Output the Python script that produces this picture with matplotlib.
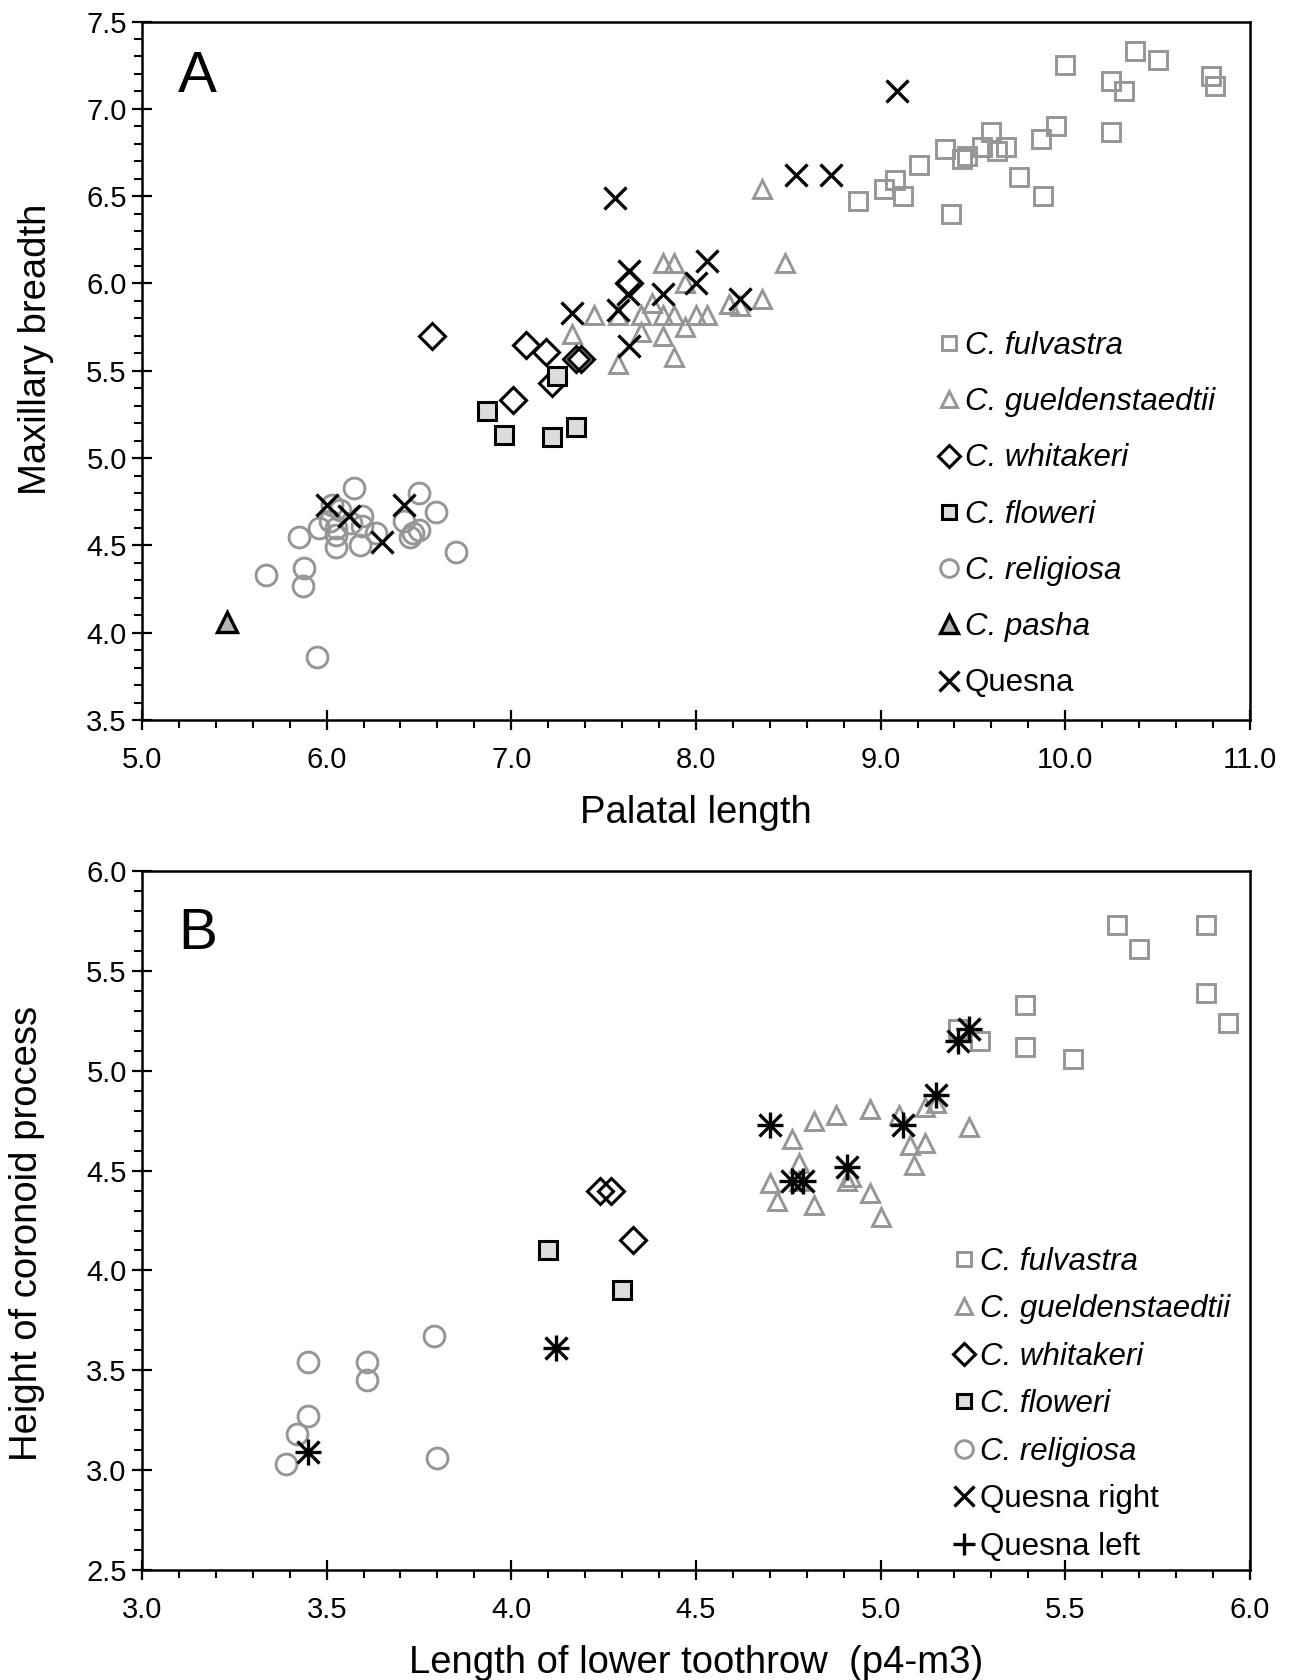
import matplotlib
matplotlib.use("Agg")
import matplotlib.pyplot as plt
from matplotlib.ticker import MultipleLocator, FormatStrFormatter

plt.rcParams['font.family'] = ['Liberation Sans', 'DejaVu Sans']

GRAY = '#969696'

# ---- Panel A: palatal length vs maxillary breadth ----
a_fulvastra_x = [10.00, 10.38, 10.50, 10.25, 10.32, 10.79, 10.81, 10.25, 9.95, 9.87,
                 9.88, 9.75, 9.60, 9.68, 9.63, 9.55, 9.44, 9.47, 9.35, 9.38, 9.21,
                 9.08, 9.02, 9.12, 8.88]
a_fulvastra_y = [7.25, 7.33, 7.28, 7.16, 7.10, 7.19, 7.13, 6.87, 6.90, 6.83,
                 6.50, 6.61, 6.87, 6.78, 6.76, 6.78, 6.71, 6.73, 6.77, 6.40, 6.68,
                 6.59, 6.54, 6.50, 6.47]

a_guelden_x = [8.36, 8.48, 7.82, 7.88, 7.94, 7.76, 7.45, 7.58, 7.70, 7.82, 7.88,
               8.00, 8.06, 8.18, 8.24, 8.36, 7.70, 7.82, 7.94, 7.33, 7.58, 7.88]
a_guelden_y = [6.54, 6.12, 6.12, 6.12, 6.00, 5.89, 5.82, 5.82, 5.82, 5.82, 5.82,
               5.82, 5.82, 5.88, 5.87, 5.91, 5.72, 5.70, 5.75, 5.71, 5.54, 5.58]

a_whitakeri_x = [6.57, 7.08, 7.19, 7.35, 7.38, 7.22, 7.01, 7.64]
a_whitakeri_y = [5.70, 5.65, 5.61, 5.57, 5.57, 5.43, 5.33, 6.00]

a_floweri_x = [6.87, 6.96, 7.22, 7.25, 7.35]
a_floweri_y = [5.27, 5.13, 5.12, 5.47, 5.18]

a_religiosa_x = [6.15, 6.50, 6.59, 6.70, 5.67, 5.88, 5.87, 5.95, 5.85, 5.96, 6.03,
                 6.07, 6.19, 6.05, 6.05, 6.05, 6.18, 6.19, 6.13, 6.27, 6.42, 6.45,
                 6.50, 6.47, 6.02]
a_religiosa_y = [4.83, 4.80, 4.69, 4.46, 4.33, 4.37, 4.27, 3.86, 4.55, 4.60, 4.73,
                 4.70, 4.67, 4.60, 4.56, 4.49, 4.50, 4.61, 4.63, 4.57, 4.64, 4.55,
                 4.59, 4.57, 4.64]

a_pasha_x = [5.46]
a_pasha_y = [4.06]

a_quesna_x = [9.09, 7.56, 7.64, 8.06, 7.82, 8.00, 7.63, 7.58, 7.33, 7.64, 8.24,
              8.54, 8.73, 6.00, 6.12, 6.30, 6.42]
a_quesna_y = [7.10, 6.49, 6.07, 6.13, 5.94, 6.00, 5.94, 5.85, 5.83, 5.64, 5.91,
              6.62, 6.62, 4.73, 4.67, 4.52, 4.73]

# ---- Panel B: lower toothrow vs coronoid height ----
b_fulvastra_x = [5.64, 5.70, 5.88, 5.88, 5.94, 5.39, 5.39, 5.52, 5.27, 5.21]
b_fulvastra_y = [5.73, 5.61, 5.73, 5.39, 5.24, 5.33, 5.12, 5.06, 5.15, 5.21]

b_guelden_x = [4.70, 4.72, 4.76, 4.78, 4.78, 4.82, 4.82, 4.88, 4.91, 4.92, 4.97,
               4.97, 5.00, 5.05, 5.08, 5.09, 5.12, 5.12, 5.15, 5.24]
b_guelden_y = [4.44, 4.35, 4.66, 4.54, 4.45, 4.75, 4.33, 4.78, 4.45, 4.47, 4.81,
               4.39, 4.27, 4.78, 4.63, 4.53, 4.64, 4.82, 4.84, 4.72]

b_whitakeri_x = [4.24, 4.27, 4.33]
b_whitakeri_y = [4.40, 4.40, 4.15]

b_floweri_x = [4.10, 4.30]
b_floweri_y = [4.10, 3.90]

b_religiosa_x = [3.45, 3.61, 3.61, 3.79, 3.45, 3.42, 3.39, 3.80]
b_religiosa_y = [3.54, 3.54, 3.45, 3.67, 3.27, 3.18, 3.03, 3.06]

b_qright_x = [3.45, 4.12, 4.70, 4.76, 4.79, 4.91, 5.06, 5.15, 5.21, 5.24]
b_qright_y = [3.09, 3.61, 4.73, 4.45, 4.45, 4.52, 4.73, 4.88, 5.15, 5.21]
b_qleft_x = [3.45, 4.12, 4.70, 4.76, 4.79, 4.91, 5.06, 5.15, 5.21, 5.24]
b_qleft_y = [3.09, 3.61, 4.73, 4.45, 4.45, 4.52, 4.73, 4.88, 5.15, 5.21]

styles = {
    'fulvastra': dict(marker='s', ms=12.5, mfc='none', mec=GRAY, mew=2.1),
    'guelden': dict(marker='^', ms=13, mfc='none', mec=GRAY, mew=2.1),
    'whitakeri': dict(marker='D', ms=13, mfc='none', mec='black', mew=2.2),
    'floweri': dict(marker='s', ms=12.5, mfc='#dcdcdc', mec='black', mew=2.2),
    'religiosa': dict(marker='o', ms=15, mfc='none', mec=GRAY, mew=2.1),
    'pasha': dict(marker='^', ms=15, mfc='#b4b4b4', mec='black', mew=2.4),
    'xmark': dict(marker='x', ms=16.5, mfc='none', mec='black', mew=2.4),
    'plus': dict(marker='+', ms=19, mfc='none', mec='black', mew=2.4),
}


def draw(ax, x, y, key, label):
    ax.plot(x, y, linestyle='none', label=label, **styles[key])


def style_axes(ax, xmaj, xmin, ymaj, ymin):
    for s in ax.spines.values():
        s.set_linewidth(1.8)
    ax.xaxis.set_major_locator(MultipleLocator(xmaj))
    ax.xaxis.set_minor_locator(MultipleLocator(xmin))
    ax.yaxis.set_major_locator(MultipleLocator(ymaj))
    ax.yaxis.set_minor_locator(MultipleLocator(ymin))
    ax.xaxis.set_major_formatter(FormatStrFormatter('%.1f'))
    ax.yaxis.set_major_formatter(FormatStrFormatter('%.1f'))
    ax.tick_params(which='major', direction='inout', length=14, width=1.6,
                   labelsize=21)
    ax.tick_params(axis='x', which='major', pad=12)
    ax.tick_params(axis='y', which='major', pad=4)
    ax.tick_params(which='minor', direction='out', length=6, width=1.5)


fig = plt.figure(figsize=(13, 16.8), dpi=100)
axA = fig.add_axes([0.1092, 0.5714, 0.8523, 0.4158])
axB = fig.add_axes([0.1092, 0.0655, 0.8523, 0.4160])

draw(axA, a_fulvastra_x, a_fulvastra_y, 'fulvastra', 'C. fulvastra')
draw(axA, a_guelden_x, a_guelden_y, 'guelden', 'C. gueldenstaedtii')
draw(axA, a_whitakeri_x, a_whitakeri_y, 'whitakeri', 'C. whitakeri')
draw(axA, a_floweri_x, a_floweri_y, 'floweri', 'C. floweri')
draw(axA, a_religiosa_x, a_religiosa_y, 'religiosa', 'C. religiosa')
draw(axA, a_pasha_x, a_pasha_y, 'pasha', 'C. pasha')
draw(axA, a_quesna_x, a_quesna_y, 'xmark', 'Quesna')

axA.set_xlim(5.0, 11.0)
axA.set_ylim(3.5, 7.5)
style_axes(axA, 1.0, 0.2, 0.5, 0.1)
axA.set_xlabel('Palatal length', fontsize=27.5, labelpad=15)
axA.set_ylabel('Maxillary breadth', fontsize=27.5)
axA.yaxis.set_label_coords(-0.0796, 0.531)
axA.text(0.05, 0.92, 'A', transform=axA.transAxes, fontsize=42,
         ha='center', va='center')

draw(axB, b_fulvastra_x, b_fulvastra_y, 'fulvastra', 'C. fulvastra')
draw(axB, b_guelden_x, b_guelden_y, 'guelden', 'C. gueldenstaedtii')
draw(axB, b_whitakeri_x, b_whitakeri_y, 'whitakeri', 'C. whitakeri')
draw(axB, b_floweri_x, b_floweri_y, 'floweri', 'C. floweri')
draw(axB, b_religiosa_x, b_religiosa_y, 'religiosa', 'C. religiosa')
draw(axB, b_qright_x, b_qright_y, 'xmark', 'Quesna right')
draw(axB, b_qleft_x, b_qleft_y, 'plus', 'Quesna left')

axB.set_xlim(3.0, 6.0)
axB.set_ylim(2.5, 6.0)
style_axes(axB, 0.5, 0.1, 0.5, 0.1)
axB.set_xlabel('Length of lower toothrow  (p4-m3)', fontsize=27.5, labelpad=15)
axB.set_ylabel('Height of coronoid process', fontsize=27.5)
axB.yaxis.set_label_coords(-0.0872, 0.481)
axB.text(0.05, 0.91, 'B', transform=axB.transAxes, fontsize=42,
         ha='center', va='center')

for ax, anchor, spacing in [(axA, (0.717, 0.557), 0.84), (axB, (0.731, 0.4625), 0.56)]:
    leg = ax.legend(loc='upper left', bbox_to_anchor=anchor, frameon=False,
                    fontsize=22.5, handlelength=0.8, handletextpad=0.11,
                    labelspacing=spacing, borderpad=0, borderaxespad=0,
                    markerscale=0.85)
    for t in leg.get_texts():
        if t.get_text().startswith('C.'):
            t.set_style('italic')

fig.savefig('out.png', dpi=100)
